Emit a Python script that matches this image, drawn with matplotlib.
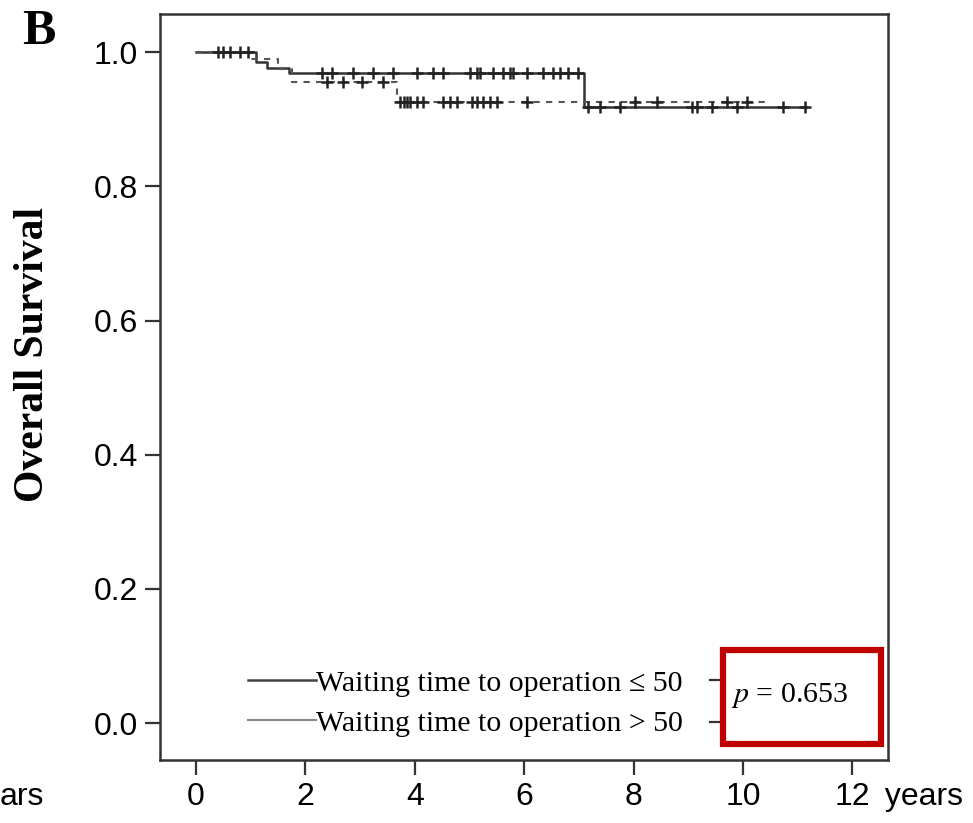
import matplotlib
matplotlib.use("Agg")
import matplotlib.pyplot as plt
from matplotlib.lines import Line2D
from matplotlib.patches import Rectangle

# step survival curves (time in years, overall survival)
le50_times = [0, 1.1, 1.3, 1.7, 7.1, 11.15]
le50_surv = [1.0, 0.986, 0.976, 0.969, 0.919, 0.919]
gt50_times = [0, 1.0, 1.5, 1.75, 3.67, 10.4]
gt50_surv = [1.0, 0.99, 0.975, 0.956, 0.926, 0.926]

# censored observations
le50_cens = [0.4, 0.62, 0.8, 2.3, 2.48, 2.87, 3.24, 3.6, 4.04, 4.33, 4.52, 5.0,
             5.13, 5.19, 5.43, 5.61, 5.74, 5.8, 6.05, 6.34, 6.53, 6.65, 6.8, 6.98,
             7.17, 7.39, 7.75, 9.07, 9.16, 9.43, 9.89, 10.73, 11.13]
gt50_cens = [0.5, 0.95, 2.4, 2.69, 3.03, 3.42, 3.73, 3.8, 3.86, 3.91, 4.04, 4.15,
             4.52, 4.64, 4.77, 5.05, 5.14, 5.25, 5.37, 5.5, 6.05, 8.03, 8.43, 9.71, 10.07]

xticks = [0, 2, 4, 6, 8, 10, 12]
yticks = [0.0, 0.2, 0.4, 0.6, 0.8, 1.0]
labels = ["Waiting time to operation \u2264 50", "Waiting time to operation > 50"]


def surv_at(times, surv, t):
    s = surv[0]
    for ti, si in zip(times, surv):
        if ti <= t:
            s = si
    return s


serif = ["Liberation Serif", "DejaVu Serif"]
sans = "Liberation Sans"

fig = plt.figure(figsize=(9.73, 8.23), dpi=100)
ax = fig.add_axes([0.1644, 0.0765, 0.7482, 0.9065])

ax.step(le50_times, le50_surv, where="post", color="#333333", lw=1.8)
ax.step(gt50_times, gt50_surv, where="post", color="#555555", lw=1.5, ls=(0, (3, 3)))
ax.plot(le50_cens, [surv_at(le50_times, le50_surv, t) for t in le50_cens], "+",
        color="#222222", ms=9, mew=1.8, ls="none")
ax.plot(gt50_cens, [surv_at(gt50_times, gt50_surv, t) for t in gt50_cens], "+",
        color="#222222", ms=9, mew=1.8, ls="none")

ax.set_xlim(-0.66, 12.65)
ax.set_ylim(-0.055, 1.057)
ax.set_xticks(xticks)
ax.set_xticklabels([str(v) for v in xticks], family=sans, fontsize=23)
ax.set_yticks(yticks)
ax.set_yticklabels(["%.1f" % v for v in yticks], family=sans, fontsize=23)
ax.tick_params(direction="out", length=11, width=1.6, color="#333333", pad=5)
for sp in ax.spines.values():
    sp.set_linewidth(1.8)
    sp.set_color("#333333")

ax.set_ylabel("Overall Survival", family=serif, fontweight="bold", fontsize=30,
              va="center", ha="center")
ax.yaxis.set_label_coords(-0.174, 0.543)

handles = [Line2D([], [], color="#444444", lw=1.8), Line2D([], [], color="#888888", lw=1.5)]
leg = ax.legend(handles, labels, loc="lower left", bbox_to_anchor=(0.1, 0.011),
                frameon=False, handlelength=2.3, handletextpad=0.0, borderpad=0,
                labelspacing=0.45, prop={"family": serif, "size": 21.5})
for y in [0.107, 0.051]:
    ax.plot([0.755, 0.768], [y, y], transform=ax.transAxes, color="#333333", lw=1.6)

ax.text(0.785, 0.086, "$p$ = 0.653", transform=ax.transAxes, family=serif,
        fontsize=21.5, va="center", ha="left", math_fontfamily="stix")

fig.add_artist(Rectangle((723 / 973, 1 - 744 / 823), 158 / 973, 94 / 823,
                         transform=fig.transFigure, fill=False, ec="#c00000", lw=4.5))

fig.text(22 / 973, 1 - 32 / 823, "B", family=serif, fontweight="bold", fontsize=36,
         va="center", ha="left")
fig.text(876 / 973, 1 - 797 / 823, " years", family=sans, fontsize=23,
         va="center", ha="left")
fig.text(0.0, 1 - 797 / 823, "ars", family=sans, fontsize=23,
         va="center", ha="left")

fig.savefig("out.png", dpi=100)
